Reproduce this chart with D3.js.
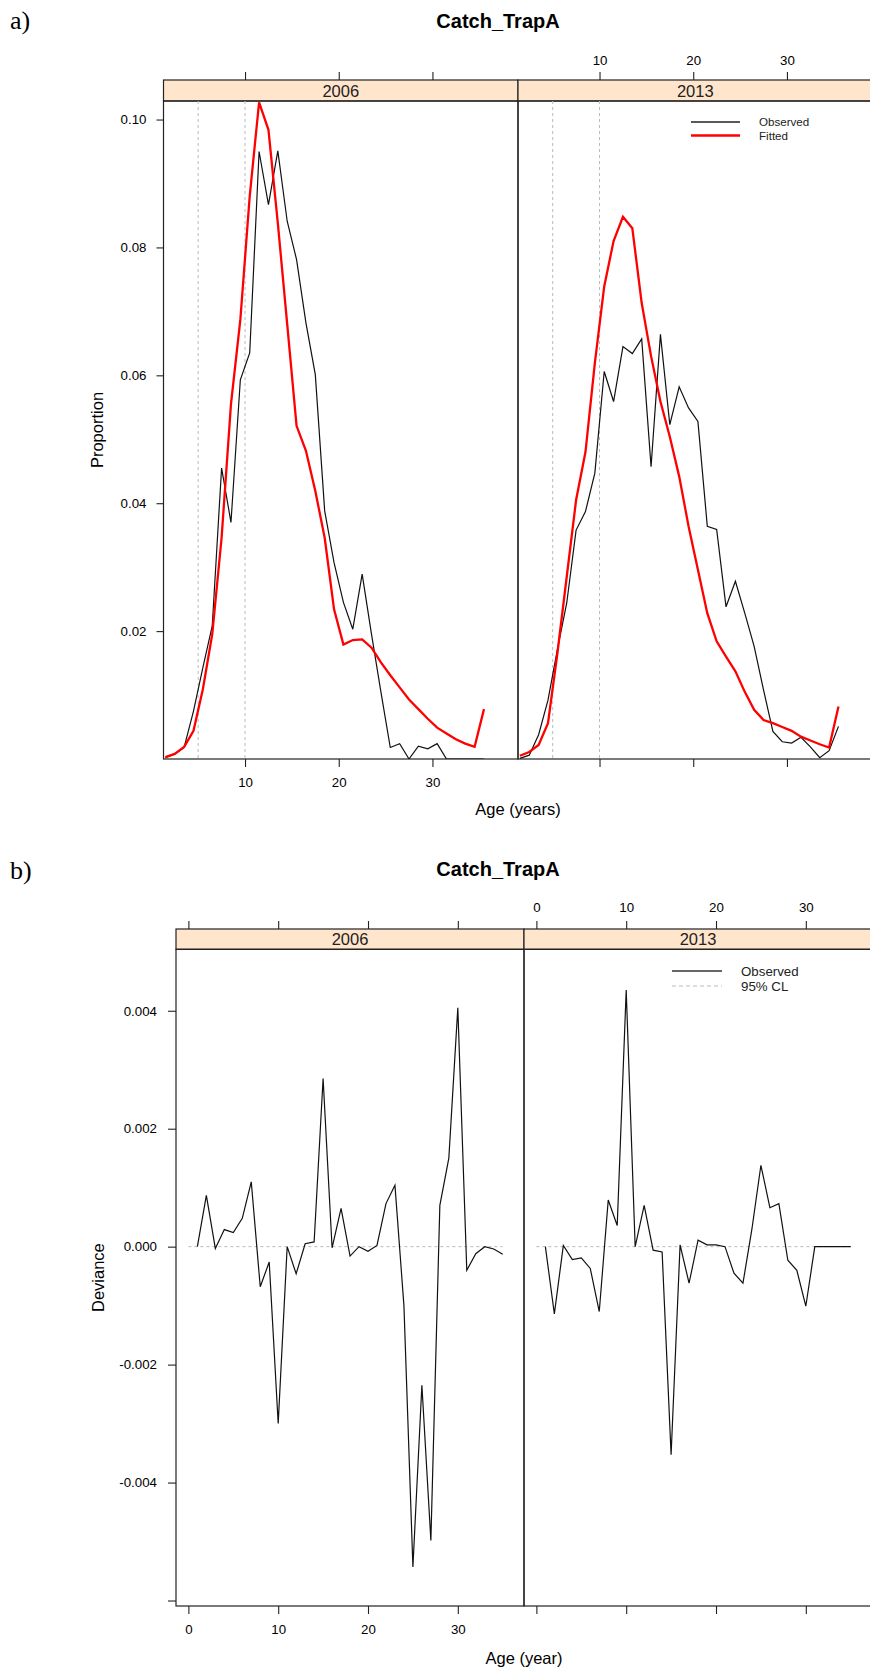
<!DOCTYPE html>
<html><head><meta charset="utf-8">
<script src="https://cdn.jsdelivr.net/npm/d3@7"></script>
<style>
body{margin:0;background:#fff}
text{font-family:"Liberation Sans",Arial,Helvetica,sans-serif;fill:#000}
text.tag{font-family:"Liberation Serif","Times New Roman",serif}
</style>
</head><body>
<svg id="c" width="870" height="1672" xmlns="http://www.w3.org/2000/svg"></svg>
<script>
// ---------------- DATA ----------------
const years = ["2006", "2013"];

// (a) proportions at age (bin mid-points)
const propAges = [1.5,2.5,3.5,4.5,5.5,6.5,7.5,8.5,9.5,10.5,11.5,12.5,13.5,14.5,15.5,16.5,17.5,18.5,19.5,20.5,21.5,22.5,23.5,24.5,25.5,26.5,27.5,28.5,29.5,30.5,31.5,32.5,33.5,34.5,35.5];
const obs2006 = [0.0002,0.0008,0.0018,0.0075,0.0143,0.0208,0.0455,0.0370,0.0593,0.0635,0.0950,0.0867,0.0951,0.0841,0.0781,0.0682,0.0601,0.0388,0.0307,0.0245,0.0203,0.0289,0.0195,0.0105,0.0018,0.0024,0.0000,0.0020,0.0016,0.0024,0.0000,0.0000,0.0000,0.0000,0.0000];
const fit2006 = [0.0003,0.0008,0.0019,0.0044,0.0109,0.0195,0.0346,0.0555,0.0687,0.0880,0.1027,0.0984,0.0838,0.0680,0.0521,0.0482,0.0419,0.0346,0.0234,0.0179,0.0186,0.0187,0.0174,0.0151,0.0131,0.0112,0.0093,0.0078,0.0063,0.0049,0.0040,0.0031,0.0024,0.0019,0.0078];
const obs2013 = [0.0001,0.0006,0.0038,0.0092,0.0171,0.0244,0.0358,0.0387,0.0447,0.0606,0.0559,0.0645,0.0634,0.0657,0.0457,0.0664,0.0523,0.0582,0.0549,0.0528,0.0364,0.0359,0.0238,0.0278,0.0228,0.0176,0.0108,0.0043,0.0027,0.0025,0.0034,0.0019,0.0002,0.0013,0.0051];
const fit2013 = [0.0005,0.0011,0.0022,0.0056,0.0165,0.0285,0.0405,0.0480,0.0619,0.0739,0.0810,0.0848,0.0830,0.0713,0.0630,0.0559,0.0504,0.0442,0.0364,0.0296,0.0228,0.0184,0.0160,0.0137,0.0105,0.0077,0.0061,0.0056,0.0050,0.0044,0.0035,0.0029,0.0023,0.0018,0.0082];

// (b) deviance by age
const devAges = [1,2,3,4,5,6,7,8,9,10,11,12,13,14,15,16,17,18,19,20,21,22,23,24,25,26,27,28,29,30,31,32,33,34,35];
const dev2006 = [0.00000,0.00087,-0.00003,0.00029,0.00024,0.00048,0.00110,-0.00068,-0.00026,-0.00300,0.00000,-0.00046,0.00005,0.00008,0.00285,-0.00002,0.00065,-0.00016,0.00000,-0.00008,0.00002,0.00073,0.00104,-0.00100,-0.00543,-0.00235,-0.00498,0.00070,0.00150,0.00405,-0.00040,-0.00012,0.00000,-0.00004,-0.00013];
const dev2013 = [0.00000,-0.00114,0.00002,-0.00022,-0.00019,-0.00037,-0.00110,0.00079,0.00036,0.00435,0.00000,0.00070,-0.00006,-0.00009,-0.00353,0.00003,-0.00062,0.00011,0.00003,0.00003,0.00000,-0.00045,-0.00062,0.00030,0.00138,0.00066,0.00073,-0.00023,-0.00040,-0.00101,0.00000,0.00000,0.00000,0.00000,0.00000];
const clAges = [0, 35];
const clValues = [0, 0];

// ticks & reference lines
const propTicks = [0.02, 0.04, 0.06, 0.08, 0.10];
const propAgeTicks = [10, 20, 30];
const refAges = [5, 10];
const devTicks = [-0.006, -0.004, -0.002, 0.000, 0.002, 0.004];
const devTickLabels = ["", "-0.004", "-0.002", "0.000", "0.002", "0.004"];
const devAgeTicks = [0, 10, 20, 30];

// ---------------- DRAWING ----------------
const svg = d3.select("#c");
const defs = svg.append("defs");
const stripFill = "#ffe5cc";
const axisCol = "#222";

function panelSet(cfg) {
  const g = svg.append("g");
  const panels = cfg.lefts.map((left, i) => {
    const x = d3.scaleLinear().domain(cfg.xDomain).range([left, left + cfg.width]);
    const y = d3.scaleLinear().domain(cfg.yDomain).range([cfg.bottom, cfg.stripBottom]);
    const id = cfg.id + i;
    defs.append("clipPath").attr("id", id).append("rect")
      .attr("x", left).attr("y", cfg.stripBottom)
      .attr("width", cfg.width).attr("height", cfg.bottom - cfg.stripBottom);
    return {x, y, id, left, i};
  });

  panels.forEach(p => {
    const pg = g.append("g");
    // strip
    pg.append("rect").attr("x", p.left).attr("y", cfg.stripTop)
      .attr("width", cfg.width).attr("height", cfg.stripBottom - cfg.stripTop)
      .attr("fill", stripFill).attr("stroke", axisCol).attr("stroke-width", 1.2);
    pg.append("text").attr("x", p.left + cfg.width / 2)
      .attr("y", (cfg.stripTop + cfg.stripBottom) / 2 + 6)
      .attr("text-anchor", "middle").attr("font-size", 16.5).style("fill", "#222")
      .text(years[p.i]);
    // panel box
    pg.append("rect").attr("x", p.left).attr("y", cfg.stripBottom)
      .attr("width", cfg.width).attr("height", cfg.bottom - cfg.stripBottom)
      .attr("fill", "none").attr("stroke", axisCol).attr("stroke-width", 1.2);

    // bottom axis
    const bAx = d3.axisBottom(p.x).tickValues(cfg.xTicks).tickSize(8).tickPadding(cfg.bottomPad)
      .tickFormat(p.i === 0 ? d3.format("d") : () => "");
    const ba = pg.append("g").attr("transform", `translate(0,${cfg.bottom})`).call(bAx);
    // top axis
    const tAx = d3.axisTop(p.x).tickValues(cfg.xTicks).tickSize(8).tickPadding(cfg.topPad)
      .tickFormat(p.i === 1 ? d3.format("d") : () => "");
    const ta = pg.append("g").attr("transform", `translate(0,${cfg.stripTop})`).call(tAx);
    [ba, ta].forEach(a => {
      a.select(".domain").remove();
      a.selectAll("line").attr("stroke", axisCol).attr("stroke-width", 1.1);
      a.selectAll("text").attr("font-size", 13.3);
    });
    if (p.i === 0) {
      const lAx = d3.axisLeft(p.y).tickValues(cfg.yTicks).tickSize(cfg.yTickSize).tickPadding(cfg.leftPad)
        .tickFormat((d, k) => cfg.yLabels[k]);
      const la = pg.append("g").attr("transform", `translate(${p.left},0)`).call(lAx);
      la.select(".domain").remove();
      la.selectAll("line").attr("stroke", axisCol).attr("stroke-width", 1.1);
      la.selectAll("text").attr("font-size", 13.3);
    }
    cfg.draw(pg.append("g").attr("clip-path", `url(#${p.id})`), p);
  });

  // labels
  svg.append("text").attr("x", cfg.titleX).attr("y", cfg.titleY).attr("text-anchor", "middle")
    .attr("font-size", 20).attr("font-weight", "bold").text(cfg.title);
  svg.append("text").attr("class", "tag").attr("x", 10).attr("y", cfg.tagY)
    .attr("font-size", 26).text(cfg.tag);
  svg.append("text").attr("x", cfg.lefts[1]).attr("y", cfg.xlabY).attr("text-anchor", "middle")
    .attr("font-size", 16.5).text(cfg.xlab);
  const yc = (cfg.stripBottom + cfg.bottom) / 2;
  svg.append("text").attr("transform", `translate(${cfg.ylabX},${yc}) rotate(-90)`)
    .attr("text-anchor", "middle").attr("font-size", 16.5).text(cfg.ylab);
}

// (a)
panelSet({
  id: "clipA", lefts: [163.5, 518], width: 354.5,
  xDomain: [1.3, 39.13], yDomain: [0, 0.1029],
  stripTop: 80, stripBottom: 101, bottom: 759,
  xTicks: propAgeTicks, yTicks: propTicks, yLabels: propTicks.map(d3.format(".2f")),
  yTickSize: 7, leftPad: 10, bottomPad: 11, topPad: 7,
  title: "Catch_TrapA", titleX: 498, titleY: 28, tag: "a)", tagY: 29,
  xlab: "Age (years)", xlabY: 815, ylab: "Proportion", ylabX: 103,
  draw: (g, p) => {
    const obs = p.i === 0 ? obs2006 : obs2013;
    const fit = p.i === 0 ? fit2006 : fit2013;
    g.selectAll("line.ref").data(refAges).enter().append("line")
      .attr("x1", d => p.x(d)).attr("x2", d => p.x(d))
      .attr("y1", p.y.range()[1]).attr("y2", p.y.range()[0])
      .attr("stroke", "#bbb").attr("stroke-width", 1).attr("stroke-dasharray", "3,3");
    const line = d3.line().x((d, k) => p.x(propAges[k])).y(d => p.y(d));
    g.append("path").datum(obs).attr("d", line).attr("fill", "none")
      .attr("stroke", "#111").attr("stroke-width", 1.2);
    g.append("path").datum(fit).attr("d", line).attr("fill", "none")
      .attr("stroke", "#ff0000").attr("stroke-width", 2.3);
    if (p.i === 1) {
      const lg = g.append("g");
      const items = [["Observed", "#222", 1.3], ["Fitted", "#ff0000", 2.6]];
      items.forEach((it, k) => {
        const yy = 122 + k * 13.5;
        lg.append("line").attr("x1", 691).attr("x2", 740).attr("y1", yy).attr("y2", yy)
          .attr("stroke", it[1]).attr("stroke-width", it[2]);
        lg.append("text").attr("x", 759).attr("y", yy + 4).attr("font-size", 11.6)
          .style("fill", "#222").text(it[0]);
      });
    }
  }
});

// (b)
panelSet({
  id: "clipB", lefts: [176, 524], width: 348,
  xDomain: [-1.38, 37.37], yDomain: [-0.006093, 0.005042],
  stripTop: 929, stripBottom: 949.3, bottom: 1606,
  xTicks: devAgeTicks, yTicks: devTicks, yLabels: devTickLabels,
  yTickSize: 8, leftPad: 11, bottomPad: 11, topPad: 9,
  title: "Catch_TrapA", titleX: 498, titleY: 876, tag: "b)", tagY: 879,
  xlab: "Age (year)", xlabY: 1664, ylab: "Deviance", ylabX: 103.5,
  draw: (g, p) => {
    const dev = p.i === 0 ? dev2006 : dev2013;
    const cl = d3.line().x((d, k) => p.x(clAges[k])).y(d => p.y(d));
    g.append("path").datum(clValues).attr("d", cl).attr("fill", "none")
      .attr("stroke", "#bbb").attr("stroke-width", 1).attr("stroke-dasharray", "3,3");
    const line = d3.line().x((d, k) => p.x(devAges[k])).y(d => p.y(d));
    g.append("path").datum(dev).attr("d", line).attr("fill", "none")
      .attr("stroke", "#111").attr("stroke-width", 1.2);
    if (p.i === 1) {
      const lg = g.append("g");
      lg.append("line").attr("x1", 672).attr("x2", 722).attr("y1", 971).attr("y2", 971)
        .attr("stroke", "#333").attr("stroke-width", 1.3);
      lg.append("line").attr("x1", 672).attr("x2", 722).attr("y1", 986).attr("y2", 986)
        .attr("stroke", "#bbb").attr("stroke-width", 1).attr("stroke-dasharray", "4,3");
      lg.append("text").attr("x", 741).attr("y", 975.5).attr("font-size", 13.3).style("fill", "#222").text("Observed");
      lg.append("text").attr("x", 741).attr("y", 990.5).attr("font-size", 13.3).style("fill", "#222").text("95% CL");
    }
  }
});
</script>
</body></html>
